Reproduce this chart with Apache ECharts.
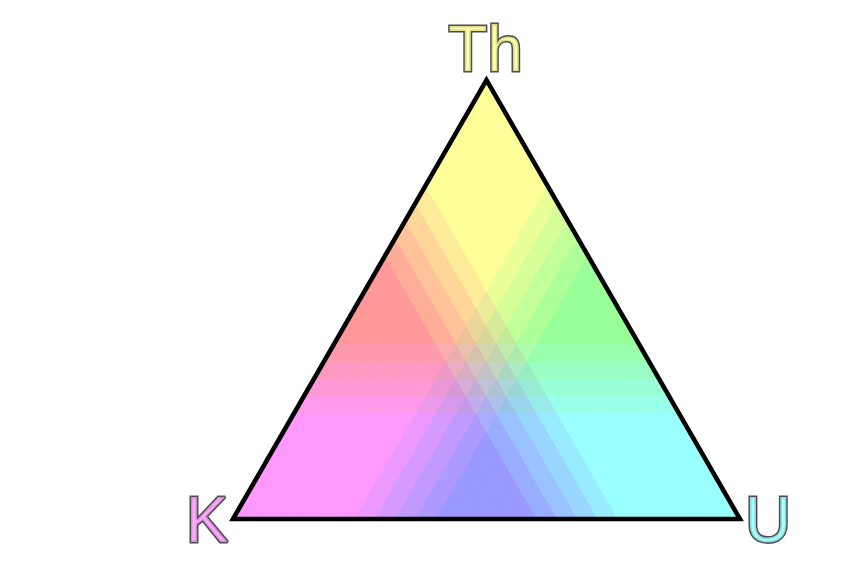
<!DOCTYPE html>
<html>
<head>
<meta charset="utf-8">
<script src="https://cdn.jsdelivr.net/npm/echarts@6/dist/echarts.min.js"></script>
<style>
html, body { margin: 0; padding: 0; background: #fff; }
#chart { width: 862px; height: 568px; }
</style>
</head>
<body>
<div id="chart"></div>
<script>
// end members, compositions as [K, Th, U] fractions
var endMembers = ['K', 'Th', 'U'];
var endMemberComp = [[1, 0, 0], [0, 1, 0], [0, 0, 1]];
var endMemberColors = ['#ff99ff', '#ffff99', '#99ffff'];

// classes: each colour channel fades as one component grows
// (R fades with U, G fades with K, B fades with Th)
var bandEdges = [0.24, 0.28, 0.32, 0.36, 0.40];
var bandShades = [255, 235, 214, 194, 173, 153];
var gridStep = 0.04;

var chart = echarts.init(document.getElementById('chart'));

// ternary -> plot coords (x along K-U base, y = Th)
function toXY(th, u) {
    return [u + th / 2, th];
}

function shade(c) {
    var i = 0;
    while (i < bandEdges.length && c >= bandEdges[i] - 1e-9) i++;
    return bandShades[i];
}

function mixColor(k, th, u) {
    return 'rgb(' + shade(u) + ',' + shade(k) + ',' + shade(th) + ')';
}

// split the triangle into small cells along the class grid
var n = Math.round(1 / gridStep);
var cells = [];
for (var i = 0; i < n; i++) {
    for (var j = 0; j < n - i; j++) {
        cells.push([i / n, j / n, i / n, (j + 1) / n, (i + 1) / n, j / n]);
        if (j < n - 1 - i) {
            cells.push([i / n, (j + 1) / n, (i + 1) / n, (j + 1) / n, (i + 1) / n, j / n]);
        }
    }
}

var labelOffsets = { K: [-26, 5], Th: [-1, -27], U: [28, 5] };

var labelData = endMemberComp.map(function (c, idx) {
    return {
        name: endMembers[idx],
        value: toXY(c[1], c[2]),
        label: { color: endMemberColors[idx], offset: labelOffsets[endMembers[idx]] }
    };
});

var option = {
    animation: false,
    grid: { left: 233, top: 80, width: 507, height: 439 },
    xAxis: { type: 'value', min: 0, max: 1, show: false },
    yAxis: { type: 'value', min: 0, max: 1, show: false },
    series: [
        {
            type: 'custom',
            silent: true,
            z: 1,
            data: cells,
            renderItem: function (params, api) {
                var pts = [];
                var th = 0, u = 0;
                for (var k = 0; k < 3; k++) {
                    var a = api.value(2 * k), b = api.value(2 * k + 1);
                    th += a / 3;
                    u += b / 3;
                    pts.push(api.coord(toXY(a, b)));
                }
                var col = mixColor(1 - th - u, th, u);
                return {
                    type: 'polygon',
                    shape: { points: pts },
                    style: { fill: col, stroke: col, lineWidth: 0.8 }
                };
            }
        },
        {
            // outline
            type: 'custom',
            silent: true,
            z: 2,
            data: [0],
            renderItem: function (params, api) {
                var pts = endMemberComp.map(function (c) {
                    return api.coord(toXY(c[1], c[2]));
                });
                return {
                    type: 'polygon',
                    shape: { points: pts },
                    style: { fill: 'none', stroke: '#000', lineWidth: 4.5, lineJoin: 'miter' }
                };
            }
        },
        {
            type: 'scatter',
            silent: true,
            z: 3,
            symbolSize: 1,
            itemStyle: { color: 'rgba(0,0,0,0)' },
            data: labelData,
            label: {
                show: true,
                position: 'inside',
                fontFamily: 'Liberation Sans',
                fontSize: 64,
                textBorderColor: '#222',
                textBorderWidth: 3,
                formatter: function (p) { return p.name; }
            }
        }
    ]
};

chart.setOption(option);
</script>
</body>
</html>
